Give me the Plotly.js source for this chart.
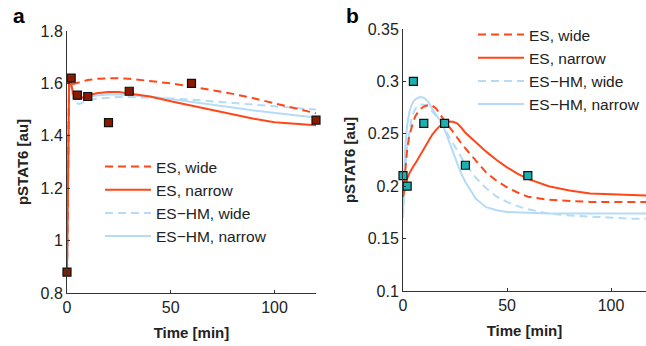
<!DOCTYPE html>
<html>
<head>
<meta charset="utf-8">
<script src="https://cdn.plot.ly/plotly-3.0.1.min.js"></script>
<style>html,body{margin:0;padding:0;background:#fff;}#chart{width:646px;height:346px;}</style>
</head>
<body>
<div id="chart"></div>
<script>
// Panel a data
const tA = [0, 0.5, 1, 1.5, 2, 3, 4, 6, 8, 10, 15, 20, 25, 30, 40, 50, 60, 70, 80, 90, 100, 110, 120];
const aEsWide = [0.88, 1.25, 1.58, 1.61, 1.60, 1.598, 1.60, 1.605, 1.61, 1.613, 1.618, 1.62, 1.62, 1.618, 1.61, 1.60, 1.588, 1.575, 1.56, 1.543, 1.525, 1.505, 1.486];
const aEsNarrow = [0.88, 1.25, 1.6, 1.62, 1.6, 1.56, 1.54, 1.54, 1.548, 1.555, 1.563, 1.567, 1.567, 1.562, 1.55, 1.532, 1.515, 1.497, 1.48, 1.465, 1.452, 1.445, 1.44];
const aHmWide = [0.88, 1.3, 1.6, 1.62, 1.58, 1.54, 1.525, 1.522, 1.528, 1.535, 1.542, 1.546, 1.548, 1.548, 1.546, 1.542, 1.538, 1.532, 1.526, 1.52, 1.514, 1.508, 1.50];
const aHmNarrow = [0.88, 1.3, 1.6, 1.62, 1.59, 1.56, 1.545, 1.542, 1.545, 1.55, 1.555, 1.558, 1.558, 1.555, 1.55, 1.54, 1.53, 1.52, 1.508, 1.497, 1.487, 1.478, 1.47];
const aDataT = [0, 2, 5, 10, 20, 30, 60, 120];
const aDataY = [0.88, 1.62, 1.555, 1.55, 1.45, 1.57, 1.60, 1.46];

// Panel b data
const tB = [0, 1, 2, 3, 4, 5, 6, 8, 10, 12, 14, 16, 18, 20, 22, 24, 26, 28, 30, 35, 40, 45, 50, 55, 60, 70, 80, 90, 100, 110, 120];
const bEsWide = [0.19, 0.215, 0.235, 0.248, 0.256, 0.262, 0.267, 0.273, 0.276, 0.2775, 0.277, 0.274, 0.268, 0.262, 0.257, 0.252, 0.246, 0.241, 0.236, 0.224, 0.213, 0.205, 0.199, 0.194, 0.19, 0.187, 0.186, 0.185, 0.185, 0.185, 0.185];
const bEsNarrow = [0.19, 0.2, 0.207, 0.212, 0.216, 0.219, 0.222, 0.229, 0.236, 0.243, 0.249, 0.254, 0.258, 0.2605, 0.2617, 0.2615, 0.26, 0.256, 0.251, 0.242, 0.233, 0.225, 0.218, 0.212, 0.207, 0.2, 0.196, 0.193, 0.192, 0.1915, 0.191];
const bHmWide = [0.17, 0.215, 0.238, 0.253, 0.263, 0.27, 0.274, 0.278, 0.2778, 0.276, 0.272, 0.267, 0.261, 0.255, 0.248, 0.241, 0.234, 0.227, 0.221, 0.208, 0.198, 0.19, 0.185, 0.181, 0.178, 0.174, 0.172, 0.171, 0.17, 0.169, 0.169];
const bHmNarrow = [0.171, 0.235, 0.258, 0.27, 0.277, 0.281, 0.283, 0.285, 0.2845, 0.281, 0.274, 0.268, 0.262, 0.254, 0.244, 0.233, 0.222, 0.212, 0.204, 0.188, 0.18, 0.177, 0.1755, 0.175, 0.1745, 0.174, 0.174, 0.174, 0.174, 0.174, 0.174];
const bDataT = [0, 2, 5, 10, 20, 30, 60];
const bDataY = [0.21, 0.20, 0.30, 0.26, 0.26, 0.22, 0.21];

const seriesNames = ['ES, wide', 'ES, narrow', 'ES\u2212HM, wide', 'ES\u2212HM, narrow'];
const xTicks = [0, 50, 100];
const yTicksA = [0.8, 1, 1.2, 1.4, 1.6, 1.8];
const yTicksATxt = ['0.8', '1', '1.2', '1.4', '1.6', '1.8'];
const yTicksB = [0.1, 0.15, 0.2, 0.25, 0.3, 0.35];
const yTicksBTxt = ['0.1', '0.15', '0.2', '0.25', '0.3', '0.35'];

const RED = '#ff4719';
const BLUE = '#b5dbf7';
const DASH = '8px,5px';
const FONT = 'Liberation Sans, Arial, sans-serif';

function line(x, y, name, color, dash, xa, ya, leg) {
  return {x: x, y: y, name: name, type: 'scatter', mode: 'lines',
    line: {color: color, width: 2, dash: dash}, xaxis: xa, yaxis: ya, legend: leg, cliponaxis: false};
}

const traces = [
  line(tA, aHmNarrow, seriesNames[3], BLUE, 'solid', 'x', 'y', 'legend'),
  line(tA, aHmWide, seriesNames[2], BLUE, DASH, 'x', 'y', 'legend'),
  line(tA, aEsNarrow, seriesNames[1], RED, 'solid', 'x', 'y', 'legend'),
  line(tA, aEsWide, seriesNames[0], RED, DASH, 'x', 'y', 'legend'),
  {x: aDataT, y: aDataY, type: 'scatter', mode: 'markers', showlegend: false, xaxis: 'x', yaxis: 'y', cliponaxis: false,
    marker: {symbol: 'square', size: 8, color: '#8c1a00', line: {color: '#111', width: 1.2}}},
  line(tB, bHmNarrow, seriesNames[3], BLUE, 'solid', 'x2', 'y2', 'legend2'),
  line(tB, bHmWide, seriesNames[2], BLUE, DASH, 'x2', 'y2', 'legend2'),
  line(tB, bEsNarrow, seriesNames[1], RED, 'solid', 'x2', 'y2', 'legend2'),
  line(tB, bEsWide, seriesNames[0], RED, DASH, 'x2', 'y2', 'legend2'),
  {x: bDataT, y: bDataY, type: 'scatter', mode: 'markers', showlegend: false, xaxis: 'x2', yaxis: 'y2', cliponaxis: false,
    marker: {symbol: 'square', size: 8, color: '#1ab0b0', line: {color: '#111', width: 1.2}}}
];

const axisCommon = {
  showline: true, linecolor: '#333', linewidth: 1, mirror: false, showgrid: false, zeroline: false,
  ticks: 'inside', ticklen: 3, tickcolor: '#333', tickfont: {family: FONT, size: 16, color: '#222'}
};
const titleFont = {family: FONT, size: 15, color: '#222', weight: 'bold'};

const legendCommon = {
  bgcolor: 'rgba(0,0,0,0)', font: {family: FONT, size: 15.5, color: '#222'},
  traceorder: 'reversed', itemwidth: 46, xanchor: 'left', yanchor: 'top', tracegroupgap: 0
};

const layout = {
  width: 646, height: 346,
  margin: {l: 0, r: 0, t: 0, b: 0},
  paper_bgcolor: '#fff', plot_bgcolor: '#fff',
  showlegend: true,
  xaxis: Object.assign({}, axisCommon, {domain: [67/646, 316/646], range: [0, 120], tickvals: xTicks, anchor: 'y',
    title: {text: 'Time [min]', font: titleFont, standoff: 12}}),
  yaxis: Object.assign({}, axisCommon, {domain: [1 - 293/346, 1 - 31/346], range: [0.8, 1.8], tickvals: yTicksA, ticktext: yTicksATxt, anchor: 'x',
    title: {text: 'pSTAT6 [au]', font: titleFont, standoff: 8}}),
  xaxis2: Object.assign({}, axisCommon, {domain: [403/646, 1], range: [0, 116.8], tickvals: xTicks, anchor: 'y2',
    title: {text: 'Time [min]', font: titleFont, standoff: 12}}),
  yaxis2: Object.assign({}, axisCommon, {domain: [1 - 291/346, 1 - 29/346], range: [0.1, 0.35], tickvals: yTicksB, ticktext: yTicksBTxt, anchor: 'x2',
    title: {text: 'pSTAT6 [au]', font: titleFont, standoff: 8}}),
  legend: Object.assign({}, legendCommon, {x: 100/646, y: 1 - 150/346}),
  legend2: Object.assign({}, legendCommon, {x: 473/646, y: 1 - 18/346}),
  annotations: [
    {text: 'a', x: 11/646, y: 1 - 2/346, xref: 'paper', yref: 'paper', xanchor: 'left', yanchor: 'top', showarrow: false,
      font: {family: FONT, size: 21, color: '#000', weight: 'bold'}},
    {text: 'b', x: 344/646, y: 1 - 2/346, xref: 'paper', yref: 'paper', xanchor: 'left', yanchor: 'top', showarrow: false,
      font: {family: FONT, size: 21, color: '#000', weight: 'bold'}}
  ]
};

Plotly.newPlot('chart', traces, layout, {staticPlot: true, displayModeBar: false});
</script>
</body>
</html>
